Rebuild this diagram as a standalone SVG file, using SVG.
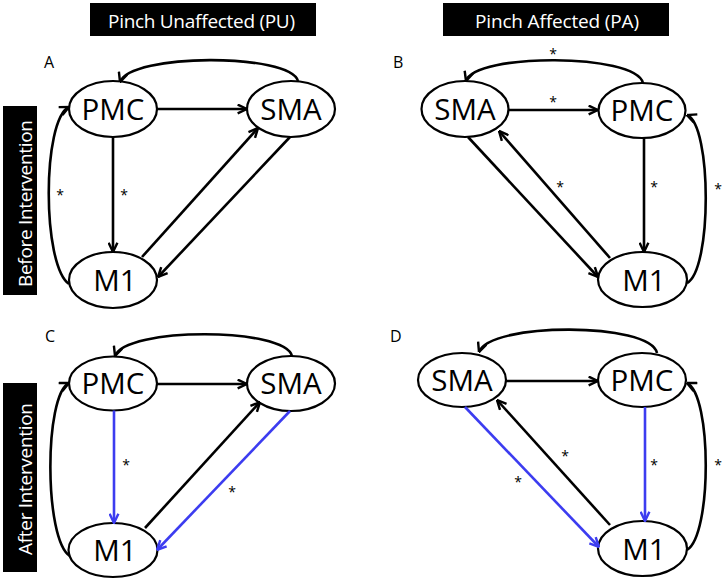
<svg xmlns="http://www.w3.org/2000/svg" width="724" height="585" viewBox="0 0 724 585">
<style>
.hdr{fill:#000}
.ht{font-family:"Open Sans","Liberation Sans",sans-serif;font-size:19px;fill:#fff}
.pl{font-family:"Open Sans","Liberation Sans",sans-serif;font-size:16px;fill:#000}
.node ellipse{fill:#fff;stroke:#000;stroke-width:2.2}
.node text{font-family:"Open Sans","Liberation Sans",sans-serif;font-size:29.5px;fill:#000;text-anchor:middle}
.e{fill:none;stroke:#000;stroke-width:2.6;marker-end:url(#ah)}
.eb{fill:none;stroke:#3c3cf0;stroke-width:2.6;marker-end:url(#ahb)}
.st{font-family:"Open Sans","Liberation Sans",sans-serif;font-size:14px;fill:#000;text-anchor:middle}
</style>
<defs>
<marker id="ah" viewBox="0 0 10 10" refX="9.5" refY="5" markerWidth="11" markerHeight="11" markerUnits="userSpaceOnUse" orient="auto">
<path d="M1,1 L9.5,5 L1,9" fill="none" stroke="#000" stroke-width="2.2"/>
</marker>
<marker id="ahb" viewBox="0 0 10 10" refX="9.5" refY="5" markerWidth="11" markerHeight="11" markerUnits="userSpaceOnUse" orient="auto">
<path d="M1,1 L9.5,5 L1,9" fill="none" stroke="#3c3cf0" stroke-width="2.2"/>
</marker>
</defs>
<rect width="724" height="585" fill="#fff"/>
<g id="headers">
<rect class="hdr" x="90" y="3" width="226" height="33"/>
<text class="ht" x="108" y="28" textLength="187">Pinch Unaffected (PU)</text>
<rect class="hdr" x="443" y="3" width="226" height="33"/>
<text class="ht" x="475" y="28" textLength="164">Pinch Affected (PA)</text>
<rect class="hdr" x="3" y="106" width="34" height="189"/>
<text class="ht" transform="translate(32,203.5) rotate(-90)" x="-83.5" y="0" textLength="167">Before Intervention</text>
<rect class="hdr" x="3" y="383" width="34" height="189"/>
<text class="ht" transform="translate(32,479) rotate(-90)" x="-76" y="0" textLength="152">After Intervention</text>
</g>
<g id="panel-labels">
<text class="pl" x="44" y="68">A</text>
<text class="pl" x="393" y="68">B</text>
<text class="pl" x="45" y="342">C</text>
<text class="pl" x="390" y="342">D</text>
</g>
<g id="nodes">
<g id="A-PMC" class="node"><ellipse cx="113" cy="109" rx="44" ry="28"/><text x="113" y="119.5">PMC</text></g>
<g id="A-SMA" class="node"><ellipse cx="291" cy="109" rx="44" ry="28"/><text x="291" y="119.5">SMA</text></g>
<g id="A-M1" class="node"><ellipse cx="113" cy="280" rx="44" ry="28"/><text x="115" y="291">M1</text></g>
<g id="B-SMA" class="node"><ellipse cx="465" cy="109" rx="43.5" ry="28"/><text x="465" y="119.5">SMA</text></g>
<g id="B-PMC" class="node"><ellipse cx="642" cy="110.5" rx="43.5" ry="27.5"/><text x="642" y="121">PMC</text></g>
<g id="B-M1" class="node"><ellipse cx="642.5" cy="279.5" rx="44.5" ry="27.5"/><text x="644" y="290.5">M1</text></g>
<g id="C-PMC" class="node"><ellipse cx="113" cy="383.5" rx="44" ry="27"/><text x="113" y="394">PMC</text></g>
<g id="C-SMA" class="node"><ellipse cx="291" cy="383.5" rx="44" ry="27.5"/><text x="291" y="394">SMA</text></g>
<g id="C-M1" class="node"><ellipse cx="113" cy="550" rx="44.5" ry="27"/><text x="115" y="561">M1</text></g>
<g id="D-SMA" class="node"><ellipse cx="462" cy="380" rx="44" ry="27"/><text x="462" y="390.5">SMA</text></g>
<g id="D-PMC" class="node"><ellipse cx="642" cy="380" rx="44" ry="27"/><text x="642" y="390.5">PMC</text></g>
<g id="D-M1" class="node"><ellipse cx="642.5" cy="548.5" rx="44.5" ry="27.5"/><text x="644" y="559.5">M1</text></g>
</g>
<g id="connectors">
<path class="e" d="M298,81 C290,53 130,53 120,82"/>
<path class="e" d="M157,109 L247,109"/>
<path class="e" d="M113,137 L113,252"/>
<path class="e" d="M142,257 L258,128"/>
<path class="e" d="M290,137 L158,277"/>
<path class="e" d="M69,284 C42,265 42,120 69,107"/>
<path class="e" d="M643,83 C635,53 475,53 466,81"/>
<path class="e" d="M508,110 L598,110"/>
<path class="e" d="M468,137 L598,277"/>
<path class="e" d="M610,258 L499,131"/>
<path class="e" d="M644,138 L644,252"/>
<path class="e" d="M687,283 C712,270 712,125 687,115"/>
<path class="e" d="M292,356 C285,327 125,327 115,356"/>
<path class="e" d="M157,384 L247,384"/>
<path class="eb" d="M114,410.5 L114,523"/>
<path class="e" d="M145,528 L260,402"/>
<path class="eb" d="M290,411 L157,550"/>
<path class="e" d="M70,556 C44,540 44,395 69,383"/>
<path class="e" d="M657,353 C650,322 490,322 479,352"/>
<path class="e" d="M506,381 L598,381"/>
<path class="eb" d="M465,407 L599,547"/>
<path class="e" d="M610,525 L497,400"/>
<path class="eb" d="M645,407 L645,521"/>
<path class="e" d="M687,550 C712,535 712,395 687,383"/>
</g>
<g id="asterisks">
<text class="st" x="60" y="200">*</text>
<text class="st" x="124" y="200">*</text>
<text class="st" x="553" y="59">*</text>
<text class="st" x="553" y="107">*</text>
<text class="st" x="560" y="192">*</text>
<text class="st" x="654" y="192">*</text>
<text class="st" x="718" y="194">*</text>
<text class="st" x="126" y="470">*</text>
<text class="st" x="232" y="497">*</text>
<text class="st" x="565" y="461">*</text>
<text class="st" x="518" y="487">*</text>
<text class="st" x="654" y="470">*</text>
<text class="st" x="718" y="470">*</text>
</g>
</svg>
